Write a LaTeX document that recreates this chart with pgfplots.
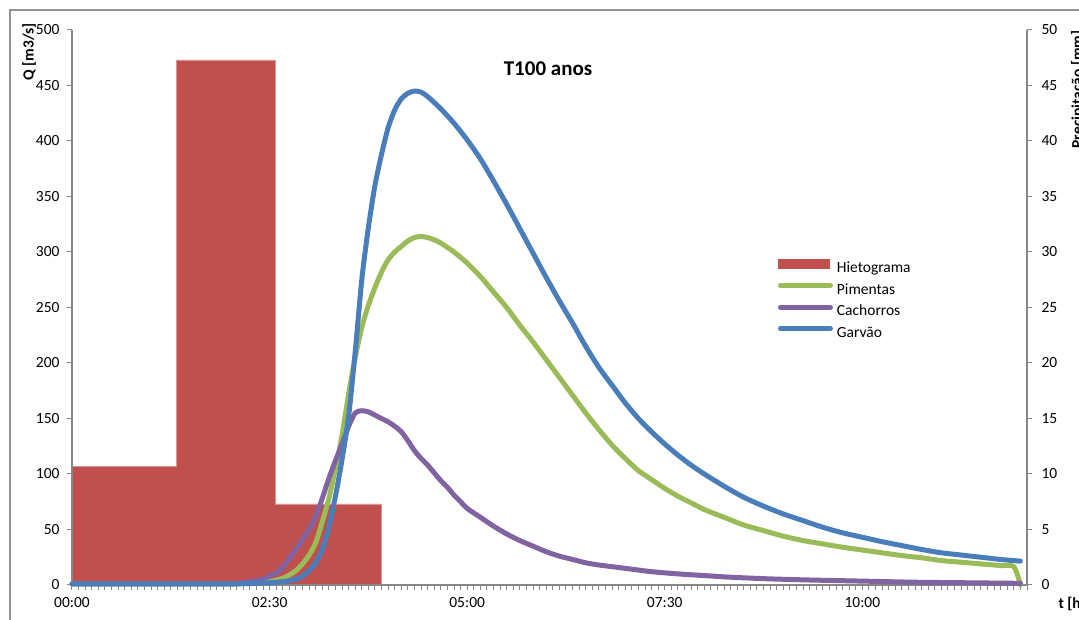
\documentclass[border=0pt]{standalone}
\usepackage{fontspec}
\setmainfont{Carlito}
\usepackage{pgfplots}
\pgfplotsset{compat=1.18}
\definecolor{hiet}{HTML}{C0504D}
\definecolor{pim}{HTML}{9BBB59}
\definecolor{cach}{HTML}{8064A2}
\definecolor{garv}{HTML}{4A7EBB}
\definecolor{axgray}{HTML}{868686}
\pgfplotsset{
 lineleg/.style={legend image code/.code={\draw[##1] (2pt,5pt) -- (52pt,5pt);}},
 barleg/.style={legend image code/.code={\fill[##1] (0pt,0.5pt) rectangle (51pt,9.5pt);}},
 common/.style={scale only axis, width=955pt, height=555pt, xmin=0, xmax=725,
   axis line style={draw=axgray, line width=1.5pt},
   tick style={draw=axgray, line width=1pt},
   major tick length=5pt, minor tick length=5pt, tick align=outside,
   tick label style={font=\fontsize{15.5}{18}\selectfont, text=black},
   /pgf/number format/assume math mode=true,
 },
 curve/.style={#1, line width=5pt, line cap=round, line join=round, smooth, tension=0.45, lineleg}
}
\begin{document}
\begin{tikzpicture}
\begin{axis}[common, ymin=0, ymax=50, axis y line*=right, axis x line=none,
  xtick=\empty, ytick={0,5,...,50}, yticklabel style={xshift=6pt}]
\addplot[fill=hiet, draw={rgb,255:red,214;green,150;blue,148}, line width=0.6pt, const plot]
  coordinates {(0,10.72) (79,47.3) (154,7.3) (234.5,7.3)} \closedcycle;
\end{axis}
\begin{axis}[common, ymin=0, ymax=500, axis y line*=left, axis x line*=bottom,
  ytick={0,50,...,500}, yticklabel style={xshift=-4pt},
  xtick={0,150,300,450,600}, xticklabels={00:00,02:30,05:00,07:30,10:00},
  xticklabel style={yshift=-4pt},
  minor xtick={0,5,...,725}, clip=false,
  legend style={at={(0.739,0.587)}, anchor=north west, draw=none, fill=none,
    inner sep=0pt, row sep=6.5pt, column sep=4pt,
    font=\fontsize{15.5}{18}\selectfont,
    nodes={inner sep=0pt, text height=11pt, text depth=4pt}},
  legend cell align=left]
\addlegendimage{hiet, fill=hiet, barleg}
\addlegendentry{Hietograma}
\addplot[curve=pim] coordinates {
(0,1) (60,1) (120,1) (130,1.2) (140,1.5) (150,3) (160,6) (165,9) (170,13) (175,19) (180,27) (185,38)
(190,57) (195,78) (200,105) (205,135) (210,172) (215,205) (220,232) (225,252) (230,268) (235,282)
(240,293) (245,300) (250,305) (255,310) (260,313) (265,314) (270,313) (275,311) (280,308) (290,300)
(300,290) (310,278) (320,264) (330,250) (340,234) (350,219) (360,203) (370,187) (380,171) (390,155)
(400,140) (410,126) (420,114) (430,103) (440,95) (450,87) (460,80) (470,74) (480,68) (495,61)
(510,54) (525,49) (540,44) (555,40) (570,37) (585,34) (600,31.5) (615,29) (630,26.5) (645,24.5)
(660,22) (675,20.5) (690,19) (705,17.5) (715,16.5) (720,0)};
\addlegendentry{Pimentas}
\addplot[curve=cach] coordinates {
(0,1) (60,1) (120,1) (130,2) (140,4) (145,5.5) (150,8) (155,11) (160,16) (165,24) (170,32) (175,41)
(180,50) (185,62) (190,78) (195,96) (200,112) (205,127) (210,143) (215,155) (220,157) (225,156)
(230,153) (235,150) (240,147) (245,143) (250,138) (255,130) (260,121) (265,114) (270,108) (275,101)
(280,94) (285,88) (290,81) (295,75) (300,69) (310,61) (320,53) (330,46) (340,40) (350,35) (360,30)
(370,26) (380,23) (390,20) (400,18) (420,15) (440,12) (460,10) (480,8.5) (500,7) (530,5.5) (560,4.5)
(600,3.5) (640,2.5) (680,2) (720,1.5)};
\addlegendentry{Cachorros}
\addplot[curve=garv] coordinates {
(0,1) (60,1) (120,1) (140,1.5) (150,2) (160,3) (165,4) (170,5) (175,8) (180,13) (185,20) (190,32)
(195,52) (200,80) (205,113) (210,152) (215,210) (220,275) (225,322) (230,360) (235,388) (240,412)
(245,428) (250,438) (255,443) (260,445) (265,444) (270,440) (280,429) (290,416) (300,401) (310,384)
(320,364) (330,343) (340,321) (350,299) (360,277) (370,256) (380,236) (390,215) (400,196) (410,180)
(420,164) (430,150) (440,138) (450,127) (460,117) (470,108) (480,100) (495,89) (510,79) (525,71)
(540,64) (555,58) (570,52) (585,47) (600,43) (615,39) (630,35.5) (645,32) (660,29) (675,27)
(690,25) (705,23) (720,21.5)};
\addlegendentry{Garvão}
\end{axis}
\node[font=\fontsize{21}{24}\selectfont\bfseries] at (476pt,516pt) {T100 anos};
\node[rotate=90, font=\fontsize{15.5}{18}\selectfont\bfseries] at (-43pt,533pt) {Q [m3/s]};
\node[rotate=90, anchor=east, font=\fontsize{15.5}{18}\selectfont\bfseries] at (1006pt,558pt) {Precipitação [mm]};
\node[anchor=west, font=\fontsize{15.5}{18}\selectfont\bfseries] at (983pt,-19pt) {t [h]};
\draw[axgray!90, line width=1.5pt] (-62pt,-100pt) -- (-62pt,575pt) -- (1150pt,575pt);
\pgfresetboundingbox
\useasboundingbox (-72pt,-35pt) rectangle (1007pt,585pt);
\end{tikzpicture}
\end{document}
